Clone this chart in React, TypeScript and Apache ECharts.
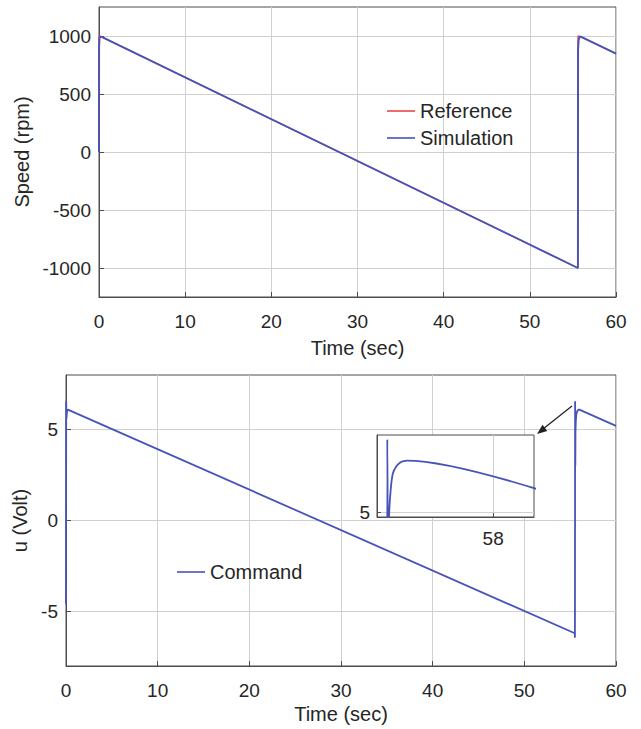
import React, { useEffect, useRef } from "react";
import * as echarts from "echarts";

// Top chart: speed (rpm)
const simTime = [0, 0.01, 0.06, 0.25, 55.58, 55.6, 55.66, 55.75, 55.9, 60];
const simSpeed = [0, 900, 985, 995, -1000, 880, 960, 988, 995, 848];
const refTime = [0, 0, 0.25, 55.58, 55.58, 55.9, 60];
const refSpeed = [0, 1000, 995, -1000, 1000, 995, 848];
const speedTicks = [-1000, -500, 0, 500, 1000];

// Bottom chart: command voltage (V)
const cmdTime = [0, 0.02, 0.05, 0.1, 0.2, 55.5, 55.52, 55.54, 55.56, 55.58, 55.62, 55.67, 55.75, 55.84, 55.92, 56.0, 60];
const cmdVolt = [-4.6, 6.55, 5.6, 5.95, 6.1, -6.2, -6.44, 6.55, 3.0, 4.9, 5.5, 5.83, 5.98, 6.06, 6.09, 6.1, 5.2];
const voltTicks = [-5, 0, 5];
const insetXTicks = [58];
const insetYTicks = [5];

const timeTicksInterval = 10;

const BLUE = "#4753b8";
const RED = "#e8474a";
const AXIS = "#4d4d4d";
const GRID = "#d0d0d0";
const TXT = "#262626";
const FONT = "Liberation Sans";

const zip = (xs: number[], ys: number[]) => xs.map((x, i) => [x, ys[i]]);
const plain = (v: number) => String(v);

export default function App() {
  const ref = useRef<HTMLDivElement>(null);
  useEffect(() => {
    if (!ref.current) return;
    const chart = echarts.init(ref.current, undefined, { renderer: "svg" });
    const xAxisBase = (gridIndex: number, gap: number) => ({
      type: "value" as const,
      gridIndex,
      min: 0,
      max: 60,
      interval: timeTicksInterval,
      name: "Time (sec)",
      nameLocation: "middle" as const,
      nameGap: gap,
      nameTextStyle: { color: TXT, fontSize: 20, fontFamily: FONT },
      axisLine: { show: true, onZero: false, lineStyle: { color: AXIS } },
      axisTick: { show: true, inside: true, length: 5, lineStyle: { color: AXIS } },
      axisLabel: { color: TXT, fontSize: 19, fontFamily: FONT, margin: 15, formatter: plain },
      splitLine: { show: true, lineStyle: { color: GRID, width: 1 } },
    });
    const option: any = {
      animation: false,
      backgroundColor: "#fff",
      textStyle: { fontFamily: FONT },
      grid: [
        { left: 99, right: 25, top: 7, height: 290, show: true, borderColor: AXIS, borderWidth: 1, backgroundColor: "transparent" },
        { left: 66, right: 25, top: 375, height: 291, show: true, borderColor: AXIS, borderWidth: 1, backgroundColor: "transparent" },
        { left: 377, top: 435, width: 157, height: 82, show: true, borderColor: AXIS, borderWidth: 1, backgroundColor: "#fff", z: 5 },
      ],
      xAxis: [
        xAxisBase(0, 41),
        xAxisBase(1, 38),
        {
          type: "value",
          gridIndex: 2,
          min: 55.3,
          max: 58.95,
          z: 6,
          axisLine: { show: true, onZero: false, lineStyle: { color: AXIS } },
          axisTick: { show: true, inside: true, length: 4, customValues: insetXTicks, lineStyle: { color: AXIS } },
          axisLabel: { show: true, customValues: insetXTicks, color: TXT, fontSize: 19, fontFamily: FONT, margin: 12, formatter: plain },
          splitLine: { show: true, lineStyle: { color: GRID } },
        },
      ],
      yAxis: [
        {
          type: "value",
          gridIndex: 0,
          min: -1250,
          max: 1250,
          name: "Speed (rpm)",
          nameLocation: "middle",
          nameGap: 59,
          nameTextStyle: { color: TXT, fontSize: 20, fontFamily: FONT },
          axisLine: { show: true, onZero: false, lineStyle: { color: AXIS } },
          axisTick: { show: true, inside: true, length: 5, customValues: speedTicks, lineStyle: { color: AXIS } },
          axisLabel: { color: TXT, fontSize: 19, fontFamily: FONT, margin: 8, customValues: speedTicks, formatter: plain },
          splitLine: { show: true, lineStyle: { color: GRID } },
        },
        {
          type: "value",
          gridIndex: 1,
          min: -8,
          max: 8,
          name: "u (Volt)",
          nameLocation: "middle",
          nameGap: 27,
          nameTextStyle: { color: TXT, fontSize: 20, fontFamily: FONT },
          axisLine: { show: true, onZero: false, lineStyle: { color: AXIS } },
          axisTick: { show: true, inside: true, length: 5, customValues: voltTicks, lineStyle: { color: AXIS } },
          axisLabel: { color: TXT, fontSize: 19, fontFamily: FONT, margin: 8, customValues: voltTicks, formatter: plain },
          splitLine: { show: true, lineStyle: { color: GRID } },
        },
        {
          type: "value",
          gridIndex: 2,
          min: 4.9,
          max: 6.645,
          z: 6,
          axisLine: { show: true, onZero: false, lineStyle: { color: AXIS } },
          axisTick: { show: true, inside: true, length: 4, customValues: insetYTicks, lineStyle: { color: AXIS } },
          axisLabel: { show: true, customValues: insetYTicks, color: TXT, fontSize: 19, fontFamily: FONT, margin: 7, formatter: plain },
          splitLine: { show: true, lineStyle: { color: GRID } },
        },
      ],
      legend: [
        {
          data: ["Reference", "Simulation"],
          orient: "vertical",
          left: 382,
          top: 96,
          icon: "rect",
          itemWidth: 28,
          itemHeight: 1.6,
          itemGap: 7,
          textStyle: { color: TXT, fontSize: 20, fontFamily: FONT },
        },
        {
          data: ["Command"],
          orient: "vertical",
          left: 172,
          top: 557,
          icon: "rect",
          itemWidth: 28,
          itemHeight: 1.6,
          textStyle: { color: TXT, fontSize: 20, fontFamily: FONT },
        },
      ],
      series: [
        {
          name: "Reference",
          type: "line",
          xAxisIndex: 0,
          yAxisIndex: 0,
          data: zip(refTime, refSpeed),
          symbol: "none",
          lineStyle: { color: RED, width: 1.3 },
          itemStyle: { color: RED },
          z: 2,
        },
        {
          name: "Simulation",
          type: "line",
          xAxisIndex: 0,
          yAxisIndex: 0,
          data: zip(simTime, simSpeed),
          symbol: "none",
          lineStyle: { color: BLUE, width: 1.9 },
          itemStyle: { color: BLUE },
          z: 3,
        },
        {
          name: "Command",
          type: "line",
          xAxisIndex: 1,
          yAxisIndex: 1,
          data: zip(cmdTime, cmdVolt),
          symbol: "none",
          lineStyle: { color: BLUE, width: 1.8 },
          itemStyle: { color: BLUE },
          z: 3,
        },
        {
          name: "Command (detail)",
          type: "line",
          xAxisIndex: 2,
          yAxisIndex: 2,
          data: zip(cmdTime, cmdVolt),
          symbol: "none",
          smooth: 0.3,
          clip: true,
          lineStyle: { color: BLUE, width: 1.8 },
          itemStyle: { color: BLUE },
          z: 7,
        },
      ],
      graphic: [
        {
          type: "line",
          shape: { x1: 572, y1: 406, x2: 543, y2: 429 },
          style: { stroke: "#222", lineWidth: 1.3 },
          z: 20,
        },
        {
          type: "polygon",
          shape: { points: [[537, 434], [547.3, 431.1], [542.5, 424.7]] },
          style: { fill: "#222" },
          z: 20,
        },
      ],
    };
    chart.setOption(option);
    return () => chart.dispose();
  }, []);
  return <div ref={ref} style={{ position: "absolute", left: 0, top: 0, width: 641, height: 729 }} />;
}
